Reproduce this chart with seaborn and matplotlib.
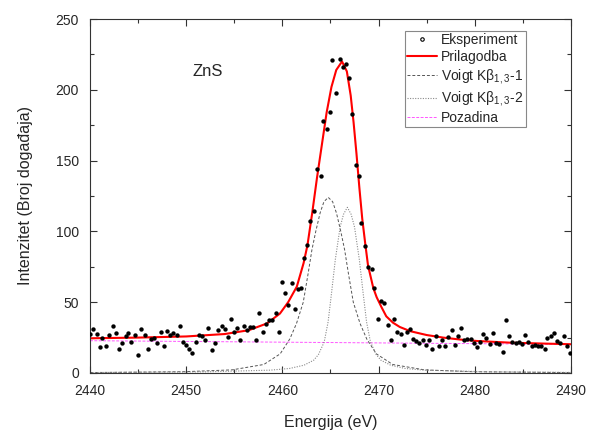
import numpy as np
import pandas as pd
import matplotlib
matplotlib.use("Agg")
import matplotlib.pyplot as plt
from matplotlib.lines import Line2D
from matplotlib.ticker import MultipleLocator
import seaborn as sns

exp_energy = [
    2440.0, 2440.35, 2440.7, 2441.0, 2441.3, 2441.7, 2442.0, 2442.35, 2442.7, 2443.0,
    2443.3, 2443.7, 2444.0, 2444.3, 2444.7, 2445.0, 2445.3, 2445.7, 2446.0, 2446.3,
    2446.65, 2447.0, 2447.35, 2447.65, 2448.0, 2448.35, 2448.65, 2449.0, 2449.35, 2449.65,
    2450.0, 2450.3, 2450.6, 2451.0, 2451.3, 2451.65, 2452.0, 2452.3, 2452.65, 2453.0,
    2453.35, 2453.7, 2454.0, 2454.3, 2454.65, 2455.0, 2455.3, 2455.6, 2456.0, 2456.3,
    2456.6, 2456.95, 2457.3, 2457.6, 2457.95, 2458.25, 2458.6, 2458.95, 2459.3, 2459.6,
    2459.95, 2460.3, 2460.6, 2460.95, 2461.3, 2461.6, 2461.95, 2462.27, 2462.6, 2462.87,
    2463.3, 2463.6, 2463.98, 2464.25, 2464.6, 2464.95, 2465.2, 2465.6, 2465.95, 2466.3,
    2466.6, 2466.95, 2467.27, 2467.6, 2467.96, 2468.2, 2468.6, 2468.93, 2469.28, 2469.55,
    2469.97, 2470.25, 2470.6, 2470.95, 2471.3, 2471.63, 2471.94, 2472.3, 2472.6, 2472.95,
    2473.26, 2473.6, 2473.9, 2474.2, 2474.6, 2474.93, 2475.24, 2475.6, 2475.93, 2476.24,
    2476.6, 2476.93, 2477.25, 2477.6, 2477.94, 2478.25, 2478.55, 2478.87, 2479.2, 2479.56,
    2479.9, 2480.2, 2480.55, 2480.9, 2481.2, 2481.55, 2481.9, 2482.2, 2482.55, 2482.9,
    2483.2, 2483.55, 2483.9, 2484.25, 2484.6, 2484.95, 2485.25, 2485.55, 2485.9, 2486.25,
    2486.55, 2486.9, 2487.25, 2487.5, 2487.9, 2488.2, 2488.55, 2488.9, 2489.25, 2489.55,
    2489.9,
]
exp_counts = [
    27.3, 31, 27.8, 18, 25, 19, 27, 33, 28, 17,
    21, 26, 28, 22, 27, 13, 31, 27, 17, 24,
    25, 21, 29, 19, 30, 27, 28, 27, 33, 22,
    20, 17, 14, 22, 27, 26, 23, 32, 16, 21.4,
    30.4, 33, 31.3, 25.6, 37.9, 29, 32, 23, 33, 30.4,
    32.2, 32.2, 23, 42.4, 29, 34.8, 37.2, 37.2, 42.2, 29,
    64.3, 56.3, 48, 63.3, 45, 59.3, 60.2, 81.4, 90.4, 107.3,
    114.6, 143.8, 139, 178.2, 172, 184, 221, 197.5, 222, 216,
    218, 208, 182.7, 146.7, 139, 105.7, 89.7, 75, 73.2, 60.2,
    37.9, 51, 49.2, 33.9, 23, 38.3, 29.2, 27.8, 19.8, 29,
    30.9, 24.2, 22.4, 21.4, 23, 19.8, 23, 17.2, 26.1, 18.9,
    23, 18.9, 25.2, 30.4, 19.8, 26.1, 32, 23, 24, 24,
    21, 18.1, 21.7, 27.3, 25, 20.4, 28, 21, 20.5, 15,
    37.3, 26, 22, 21, 22, 20.4, 26.8, 22, 19, 20,
    19.3, 19.3, 17, 25, 26, 28, 22.8, 21, 26.2, 19,
    14,
]

# fitted curve (Prilagodba)
fit_energy = [2440, 2445, 2450, 2454, 2456.5, 2458.4, 2459.75, 2460.6, 2461.5, 2462.2,
              2462.6, 2463.1, 2463.6, 2464.1, 2464.6, 2465.1, 2465.6, 2466.2, 2466.7, 2467.1,
              2467.4, 2467.7, 2468.0, 2468.3, 2468.6, 2468.9, 2469.45, 2469.8, 2470.3, 2470.8,
              2471.5, 2472.2, 2473.3, 2475, 2476.7, 2478.5, 2480.2, 2483.7, 2487, 2490]
fit_counts = [24.5, 25.0, 25.8, 27.5, 30.2, 35, 42, 50, 61, 77.5,
              90, 113, 138, 161, 184, 202, 214, 220, 213, 196,
              177, 155, 131, 109, 92, 76, 60, 53.5, 46.5, 40,
              35.5, 32.5, 29.5, 26.8, 25, 23.6, 22.6, 21.4, 20.8, 20.3]

# Voigt component 1
v1_energy = [2440, 2449.77, 2454.77, 2458.07, 2459.77, 2460.77, 2461.47, 2462.17, 2462.67,
             2463.07, 2463.47, 2463.92, 2464.32, 2464.77, 2465.22, 2465.62, 2466.07, 2466.47,
             2466.87, 2467.37, 2468.07, 2468.77, 2469.77, 2471.47, 2474.77, 2479.77, 2490]
v1_counts = [0.3, 0.9, 2.2, 6, 13.5, 24, 35, 50, 70,
             87, 100, 113, 121, 124, 121, 113, 100, 87,
             70, 50, 35, 24, 13.5, 6, 2.2, 0.9, 0.3]

# Voigt component 2
v2_energy = [2440, 2452, 2458.75, 2460.75, 2462.25, 2463.25, 2463.75, 2464.35, 2464.75,
             2465.1, 2465.5, 2466.0, 2466.35, 2466.75, 2467.15, 2467.5, 2468.0, 2468.4,
             2468.75, 2469.15, 2469.75, 2470.25, 2471.25, 2472.75, 2474.75, 2481.5, 2490]
v2_counts = [0.3, 0.8, 2, 3.2, 5.5, 9, 13, 22, 36,
             56, 80, 103, 112, 117, 112, 103, 80, 56,
             36, 22, 13, 9, 5.5, 3.2, 2, 0.8, 0.4]

# background (Pozadina)
bg_energy = [2440, 2490]
bg_counts = [22.8, 20.2]

sns.set_theme(style="ticks")
plt.rcParams['font.family'] = ['Liberation Sans', 'DejaVu Sans']
plt.rcParams['mathtext.fontset'] = 'custom'
plt.rcParams['mathtext.rm'] = 'Liberation Sans'
plt.rcParams['mathtext.default'] = 'regular'

fig = plt.figure(figsize=(5.9, 4.3), dpi=100)
ax = fig.add_axes([0.1525, 0.1326, 0.8153, 0.8232])

sns.lineplot(x=bg_energy, y=bg_counts, ax=ax, color='#ff55ff', lw=0.7,
             linestyle=(0, (3, 1.5)), errorbar=None)
sns.lineplot(x=v1_energy, y=v1_counts, ax=ax, color='#555555', lw=0.7,
             linestyle=(0, (3, 2)), errorbar=None)
sns.lineplot(x=v2_energy, y=v2_counts, ax=ax, color='#8a8a8a', lw=0.8,
             linestyle=(0, (1, 1.3)), errorbar=None)
sns.lineplot(x=fit_energy, y=fit_counts, ax=ax, color='#ff0000', lw=1.5,
             errorbar=None)
sns.scatterplot(x=exp_energy, y=exp_counts, ax=ax, color='black', s=10,
                linewidth=0, zorder=5)

ax.set_xlim(2440, 2490)
ax.set_ylim(0, 250)
ax.xaxis.set_major_locator(MultipleLocator(10))
ax.xaxis.set_minor_locator(MultipleLocator(5))
ax.yaxis.set_major_locator(MultipleLocator(50))
ax.yaxis.set_minor_locator(MultipleLocator(25))
ax.tick_params(which='both', direction='in', top=True, right=True,
               labelsize=10, color='#333333', width=0.8)
ax.tick_params(axis='x', which='major', pad=8)
ax.tick_params(axis='y', which='major', pad=8)
ax.tick_params(which='major', length=5)
ax.tick_params(which='minor', length=3)
for sp in ax.spines.values():
    sp.set_linewidth(0.8)
    sp.set_color('#333333')

ax.set_xlabel('Energija (eV)', fontsize=11.5, labelpad=12)
ax.set_ylabel('Intenzitet (Broj događaja)', fontsize=11.5, labelpad=16)
ax.text(2450.7, 213, 'ZnS', fontsize=12, va='center')

handles = [
    Line2D([], [], marker='o', ms=2.5, mfc='none', mec='black', mew=0.8, lw=0),
    Line2D([], [], color='#ff0000', lw=1.5),
    Line2D([], [], color='#555555', lw=0.7, linestyle=(0, (3, 2))),
    Line2D([], [], color='#8a8a8a', lw=0.8, linestyle=(0, (1, 1.3))),
    Line2D([], [], color='#ff55ff', lw=0.7, linestyle=(0, (3, 1.5))),
]
labels = ['Eksperiment', 'Prilagodba', 'Voigt Kβ$_{1,3}$-1',
          'Voigt Kβ$_{1,3}$-2', 'Pozadina']
leg = ax.legend(handles, labels, loc='upper right', bbox_to_anchor=(0.906, 0.966),
                fontsize=10, frameon=True, fancybox=False, framealpha=1,
                edgecolor='#888888', handlelength=2.2, handletextpad=0.3,
                borderpad=0.15, labelspacing=0.22, borderaxespad=0)
leg.get_frame().set_linewidth(0.8)

fig.savefig('out.png', dpi=100)
